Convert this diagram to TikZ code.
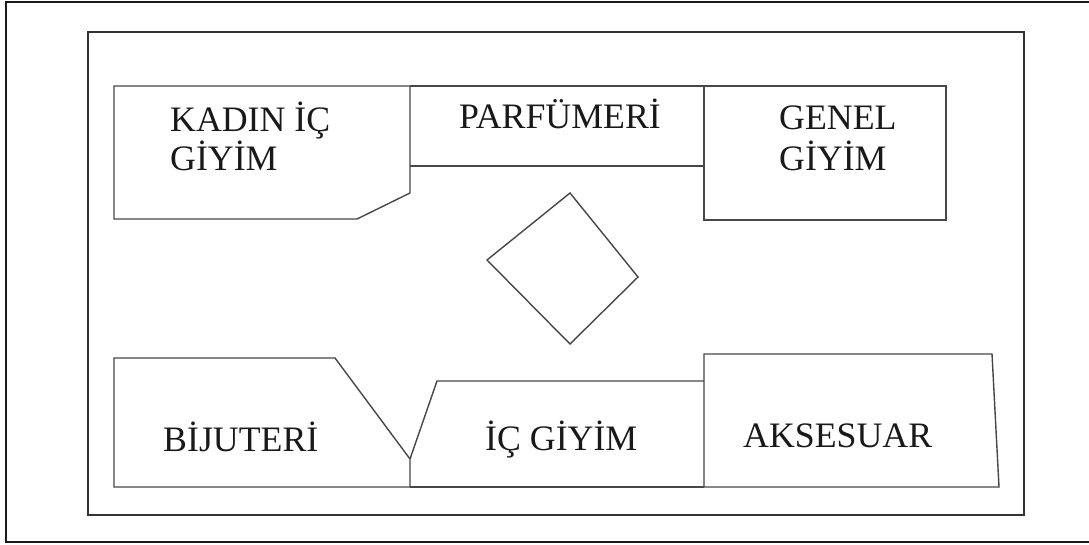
\documentclass[tikz,border=0pt]{standalone}
\usepackage{fontspec}
\setmainfont{Liberation Serif}
\begin{document}
\begin{tikzpicture}[x=1pt,y=-1pt,
  frameline/.style={draw=black!90,line width=2pt},
  innerframe/.style={draw=black!80,line width=1.8pt},
  zoneline/.style={draw=black!72,line width=1.4pt,line join=miter},
  zonelabel/.style={anchor=base west,inner sep=0pt,font=\fontsize{35.8}{39}\selectfont,text=black!90}]
\useasboundingbox (0,0) rectangle (1089,544);
\fill[white] (0,0) rectangle (1089,544);

% outer page frame (continues past the right edge)
\draw[frameline] (1095,2) -- (6,2) -- (6,542) -- (1095,542);
% store outline
\draw[innerframe] (88,32) rectangle (1024,515);

% upper row
\draw[zoneline] (410,86) -- (114,86) -- (114,219) -- (357,219) -- (410,193) -- cycle;
\draw[zoneline] (410,86) -- (704,86);
\draw[zoneline] (410,166) -- (704,166);
\draw[zoneline] (704,86) rectangle (946,220);

% central display unit
\draw[zoneline] (570,193) -- (638,277) -- (570,344) -- (487,260) -- cycle;

% lower row
\draw[zoneline] (114,487) -- (114,358) -- (335,358) -- (410,459) -- (410,487) -- cycle;
\draw[zoneline] (410,459) -- (437,381) -- (704,381);
\draw[zoneline] (410,487) -- (704,487);
\draw[zoneline] (704,487) -- (704,354) -- (992,354) -- (999,487) -- cycle;

% zone names
\node[zonelabel] (kadin) at (170,131) {KADIN İÇ};
\node[zonelabel] (kadin2) at (170,170) {GİYİM};
\node[zonelabel] (parfum) at (459,128) {PARFÜMERİ};
\node[zonelabel] (genel) at (779,129) {GENEL};
\node[zonelabel] (genel2) at (779,170) {GİYİM};
\node[zonelabel] (bijuteri) at (163,451) {BİJUTERİ};
\node[zonelabel] (icgiyim) at (485,450) {İÇ GİYİM};
\node[zonelabel] (aksesuar) at (743,447) {AKSESUAR};
\end{tikzpicture}
\end{document}
